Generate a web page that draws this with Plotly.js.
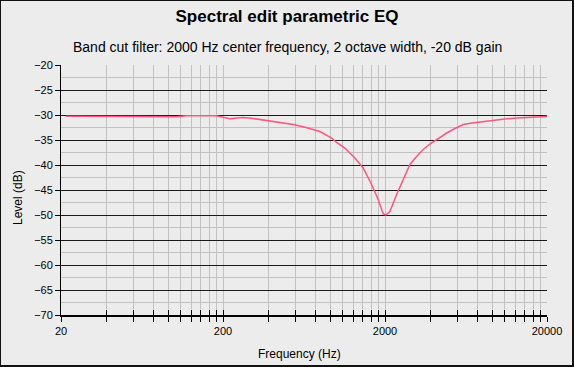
<!DOCTYPE html>
<html>
<head>
<meta charset="utf-8">
<script src="https://cdn.plot.ly/plotly-3.0.1.min.js"></script>
<style>
  html, body { margin:0; padding:0; background:#ececec; }
  #wrap { position:relative; width:574px; height:367px; }
  #chart { position:absolute; left:0; top:0; width:574px; height:367px; }
  #frame { position:absolute; left:0; top:0; width:574px; height:367px; box-sizing:border-box;
           border-top:1px solid #111; border-left:1px solid #111; border-right:2px solid #111; border-bottom:2px solid #111;
           pointer-events:none; }
</style>
</head>
<body>
<div id="wrap"><div id="chart"></div><div id="frame"></div></div>
<script>
// Data
const freqHz = [21.5, 38, 50, 103, 119, 182, 220, 265, 300, 337, 400, 470, 555, 650, 792, 936, 1004, 1130, 1303, 1466, 1653, 1815, 1950, 2028, 2145, 2360, 2590, 2851, 3134, 3444, 3786, 4300, 4808, 5400, 6085, 6900, 7725, 8700, 9795, 11300, 13010, 16000, 20000];
const levelDb = [-30.25, -30.25, -30.35, -30.35, -30.15, -30.15, -30.75, -30.5, -30.65, -30.9, -31.2, -31.5, -31.94, -32.5, -33.3, -34.6, -35.5, -36.6, -38.6, -40.6, -43.9, -46.9, -49.8, -50.0, -49.3, -45.9, -42.8, -39.9, -38.3, -36.9, -35.8, -34.6, -33.6, -32.7, -31.9, -31.6, -31.4, -31.1, -30.9, -30.75, -30.6, -30.4, -30.3];

const xTickVals = [20,38,56,74,92,110,128,146,164,182,
                   200,380,560,740,920,1100,1280,1460,1640,1820,
                   2000,3800,5600,7400,9200,11000,12800,14600,16400,18200,20000];
const xLabeled = [20, 200, 2000, 20000];
const xTickText = xTickVals.map(v => xLabeled.includes(v) ? String(v) : '');
const yTickVals = [-20,-25,-30,-35,-40,-45,-50,-55,-60,-65,-70];

const titleText = 'Spectral edit parametric EQ';
const subtitleText = 'Band cut filter: 2000 Hz center frequency, 2 octave width, -20 dB gain';
const xTitle = 'Frequency (Hz)';
const yTitle = 'Level (dB)';

const FONT = 'Liberation Sans, Arial, Helvetica, sans-serif';
const xr = [Math.log10(20), Math.log10(20000)];

const traces = [
  { x: freqHz, y: levelDb, type:'scatter', mode:'lines',
    line:{color:'#ff5580', width:1.5}, hoverinfo:'x+y', showlegend:false },
  { x: freqHz, y: levelDb, type:'scatter', mode:'none', xaxis:'x2',
    hoverinfo:'skip', showlegend:false }
];

const layout = {
  width:574, height:367,
  margin:{l:61, r:27, t:65, b:52},
  paper_bgcolor:'#ececec', plot_bgcolor:'#ececec',
  font:{family:FONT, color:'#000', size:11},
  showlegend:false,
  title:{text:'<b>'+titleText+'</b>', font:{family:FONT, size:17, color:'#000'},
         x:0.5, xanchor:'center', xref:'container', y:1-16.5/367, yanchor:'middle', yref:'container'},
  xaxis:{type:'log', range:xr, tickmode:'array', tickvals:xTickVals, ticktext:xTickText,
         ticks:'outside', ticklen:5, tickwidth:1, tickcolor:'#000',
         showgrid:true, gridcolor:'#c2c2c2', gridwidth:1,
         showline:true, linecolor:'#000', linewidth:2, zeroline:false,
         tickfont:{family:FONT, size:11, color:'#000'}, fixedrange:true},
  xaxis2:{type:'log', range:xr, overlaying:'x', anchor:'y', side:'bottom',
          tickmode:'array', tickvals:xTickVals, showticklabels:false,
          ticks:'inside', ticklen:5, tickwidth:1, tickcolor:'#000',
          showgrid:false, showline:false, zeroline:false, fixedrange:true},
  yaxis:{range:[-70,-20], tickmode:'array', tickvals:yTickVals,
         ticks:'outside', ticklen:5, tickwidth:1, tickcolor:'#000',
         showgrid:true, gridcolor:'#1a1a1a', gridwidth:1,
         minor:{tickmode:'linear', tick0:-20, dtick:2.5, showgrid:true, gridcolor:'#c2c2c2', gridwidth:1, ticks:''},
         showline:true, linecolor:'#000', linewidth:1, zeroline:false,
         tickfont:{family:FONT, size:11, color:'#000'}, fixedrange:true},
  annotations:[
    {text:subtitleText, xref:'paper', yref:'paper', x:(287-61)/486, y:(315-47)/250,
     xanchor:'center', yanchor:'middle', showarrow:false, font:{family:FONT, size:14, color:'#000'}},
    {text:xTitle, xref:'paper', yref:'paper', x:(299.5-61)/486, y:(315-353.5)/250,
     xanchor:'center', yanchor:'middle', showarrow:false, font:{family:FONT, size:12, color:'#000'}},
    {text:yTitle, xref:'paper', yref:'paper', x:(18-61)/486, y:(315-198)/250, textangle:-90,
     xanchor:'center', yanchor:'middle', showarrow:false, font:{family:FONT, size:12, color:'#000'}}
  ]
};

Plotly.newPlot('chart', traces, layout, {displayModeBar:false, staticPlot:true});
</script>
</body>
</html>
